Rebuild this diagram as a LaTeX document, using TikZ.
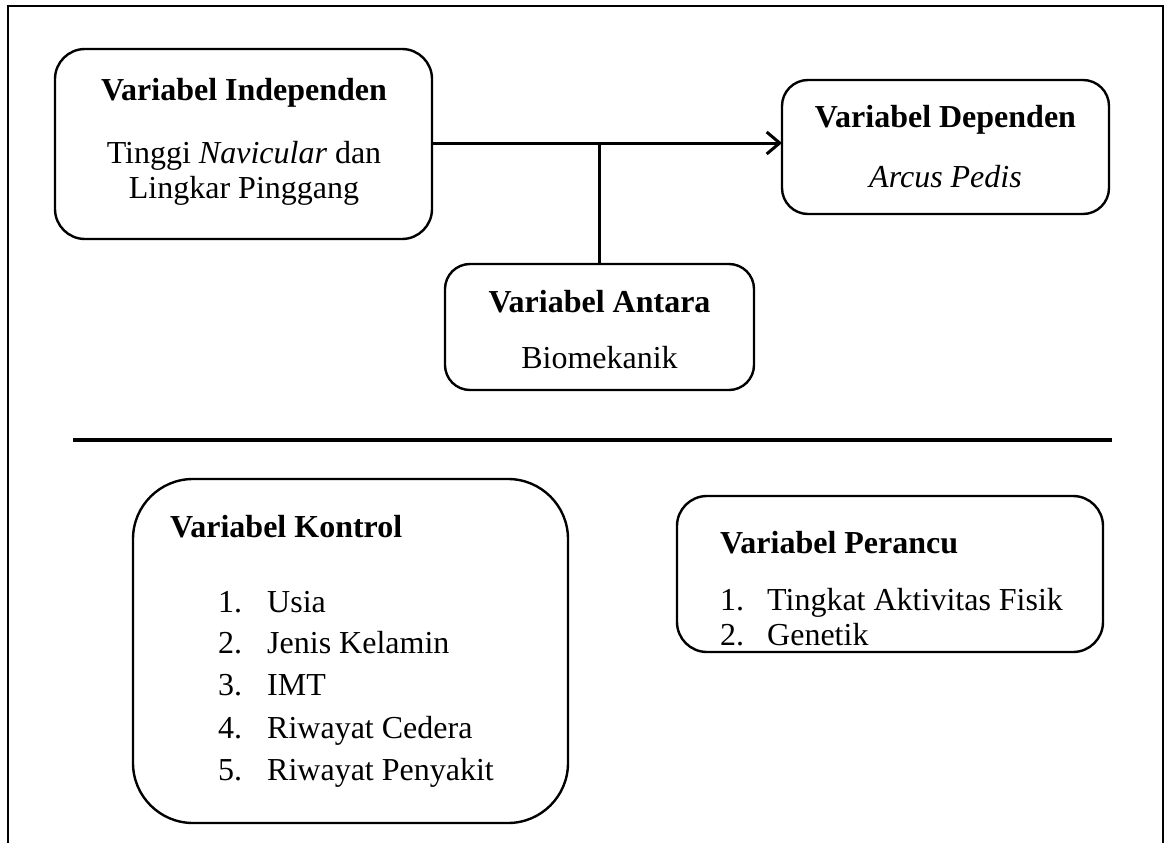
\documentclass[tikz,border=0pt]{standalone}
\usepackage{fontspec}
\setmainfont{Liberation Serif}
\usetikzlibrary{arrows.meta}
\begin{document}
\begin{tikzpicture}[x=1pt,y=-1pt,
  box/.style={draw, line width=2.4pt, inner sep=0pt, outer sep=0pt},
  txt/.style={font=\fontsize{32}{35}\selectfont, inner sep=0pt, anchor=base},
  txtl/.style={txt, anchor=base west},
  conn/.style={line width=3pt},
  arr/.style={conn, -{Straight Barb[length=13pt,width=22pt,line width=3pt]}},
  frame/.style={line width=2pt},
  sep/.style={line width=4pt}]
\useasboundingbox (0,0) rectangle (1168,843);
% outer frame (open at bottom)
\coordinate (fbl) at (8,843);
\coordinate (ftl) at (8,6);
\coordinate (ftr) at (1163,6);
\coordinate (fbr) at (1163,843);
\draw[frame] (fbl) -- (ftl) -- (ftr) -- (fbr);
% boxes
\node[box, rounded corners=30pt, minimum width=377pt, minimum height=190pt] (indep) at (243.5,144) {};
\node[box, rounded corners=26pt, minimum width=327pt, minimum height=134pt] (dep) at (945.5,147) {};
\node[box, rounded corners=25pt, minimum width=309pt, minimum height=126pt] (antara) at (599.5,327) {};
\node[box, rounded corners=60pt, minimum width=435pt, minimum height=344pt] (kontrol) at (350.5,651) {};
\node[box, rounded corners=30pt, minimum width=426pt, minimum height=156pt] (perancu) at (890,574) {};
% texts
\node[txt] (t1) at (244,100) {\textbf{Variabel Independen}};
\node[txt] (t2) at (244,163) {Tinggi \textit{Navicular} dan};
\node[txt] (t3) at (244,198) {Lingkar Pinggang};
\node[txt] (t4) at (945.5,127) {\textbf{Variabel Dependen}};
\node[txt] (t5) at (945.5,187) {\textit{Arcus Pedis}};
\node[txt] (t6) at (599.5,312) {\textbf{Variabel Antara}};
\node[txt] (t7) at (599.5,368) {Biomekanik};
\node[txtl] (k0) at (170,537) {\textbf{Variabel Kontrol}};
\node[txtl] (kn1) at (218,612) {1.};
\node[txtl] (kn2) at (218,653) {2.};
\node[txtl] (kn3) at (218,695) {3.};
\node[txtl] (kn4) at (218,738) {4.};
\node[txtl] (kn5) at (218,780) {5.};
\node[txtl] (ki1) at (267,612) {Usia};
\node[txtl] (ki2) at (267,653) {Jenis Kelamin};
\node[txtl] (ki3) at (267,695) {IMT};
\node[txtl] (ki4) at (267,738) {Riwayat Cedera};
\node[txtl] (ki5) at (267,780) {Riwayat Penyakit};
\node[txtl] (p0) at (720,553) {\textbf{Variabel Perancu}};
\node[txtl] (pn1) at (720,610) {1.};
\node[txtl] (pn2) at (720,645) {2.};
\node[txtl] (pi1) at (767,610) {Tingkat Aktivitas Fisik};
\node[txtl] (pi2) at (767,645) {Genetik};
% connectors
\coordinate (jn) at (599.5,143);
\draw[arr] (indep.east |- jn) -- (dep.west |- jn);
\draw[conn] (antara.north) -- (jn);
% separator
\coordinate (s1) at (73,440);
\coordinate (s2) at (1112,440);
\draw[sep] (s1) -- (s2);
\end{tikzpicture}
\end{document}
